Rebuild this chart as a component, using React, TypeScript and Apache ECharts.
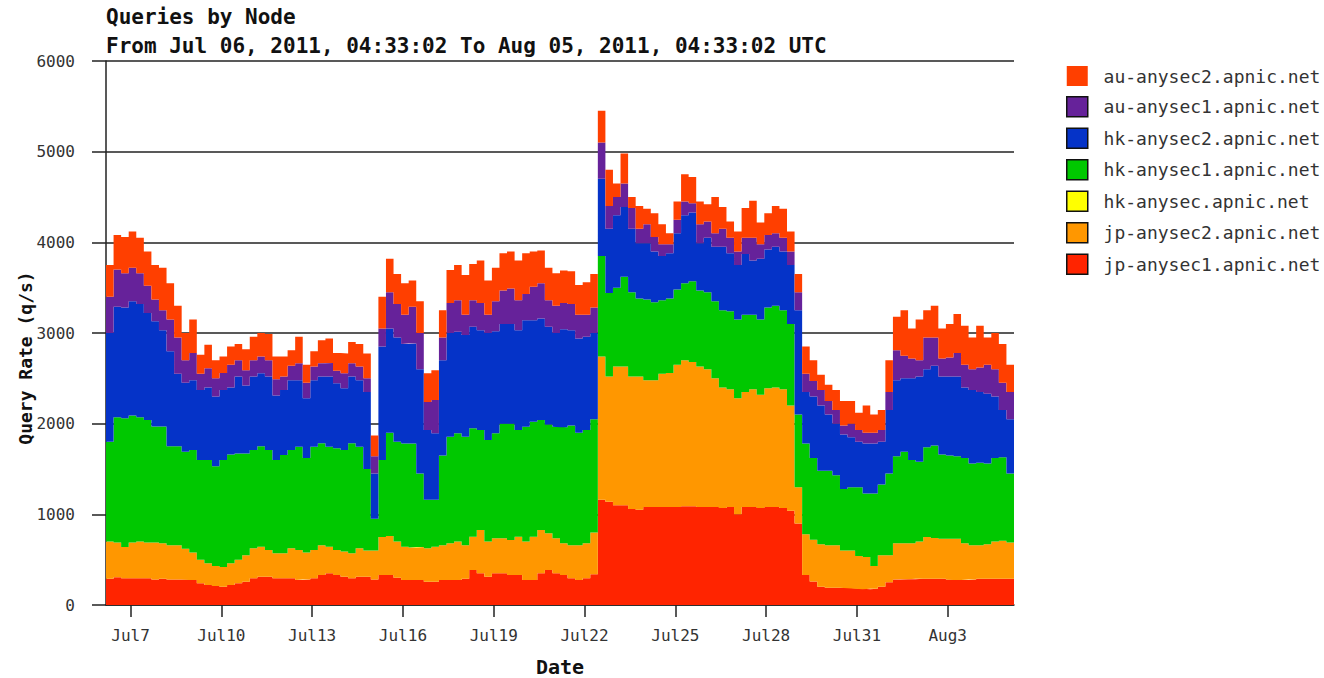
import React, { useEffect, useRef } from "react";
import * as echarts from "echarts";

// ---- time frame ----
const startTime = "2011-07-06T04:33:02Z";
const stepHours = 6;
const spanHours = 720;

// ---- tick labels ----
const tickDates = ["2011-07-07", "2011-07-10", "2011-07-13", "2011-07-16", "2011-07-19", "2011-07-22", "2011-07-25", "2011-07-28", "2011-07-31", "2011-08-03"];
const tickLabels = ["Jul7", "Jul10", "Jul13", "Jul16", "Jul19", "Jul22", "Jul25", "Jul28", "Jul31", "Aug3"];
const yMin = 0;
const yMax = 6000;
const yStep = 1000;

// ---- series (bottom of stack first) ----
const seriesNames = ["jp-anysec1.apnic.net", "jp-anysec2.apnic.net", "hk-anysec.apnic.net", "hk-anysec1.apnic.net", "hk-anysec2.apnic.net", "au-anysec1.apnic.net", "au-anysec2.apnic.net"];
const seriesColors = ["#FF2400", "#FF9700", "#FFFF00", "#00C800", "#0533C8", "#66229A", "#FF3F00"];
const legendNames = ["au-anysec2.apnic.net", "au-anysec1.apnic.net", "hk-anysec2.apnic.net", "hk-anysec1.apnic.net", "hk-anysec.apnic.net", "jp-anysec2.apnic.net", "jp-anysec1.apnic.net"];

// values per 6-hour step (q/s)
const jp1 = [
  290, 305, 295, 295, 295, 295, 280, 290, 280, 280,
  280, 275, 240, 220, 210, 200, 220, 240, 257, 294,
  312, 312, 294, 294, 294, 275, 280, 294, 330, 350,
  330, 312, 294, 312, 312, 280, 330, 330, 300, 275,
  275, 275, 257, 257, 275, 275, 275, 290, 386, 350,
  312, 350, 350, 330, 330, 275, 275, 350, 386, 350,
  330, 294, 275, 294, 340, 1160, 1140, 1100, 1100, 1060,
  1050, 1080, 1080, 1080, 1080, 1080, 1090, 1090, 1080, 1080,
  1080, 1070, 1080, 1000, 1080, 1080, 1070, 1080, 1080, 1070,
  1040, 900, 330, 260, 200, 190, 190, 190, 185, 180,
  175, 180, 200, 250, 280, 285, 285, 290, 290, 290,
  290, 280, 275, 275, 280, 290, 290, 290, 290, 290,
];
const jp2 = [
  410, 385, 345, 395, 405, 395, 410, 390, 380, 380,
  340, 305, 260, 240, 220, 220, 240, 260, 293, 331,
  331, 294, 276, 276, 331, 331, 300, 312, 330, 293,
  276, 278, 276, 313, 288, 320, 420, 430, 400, 368,
  360, 365, 368, 386, 385, 405, 425, 370, 367, 477,
  388, 385, 385, 387, 423, 425, 478, 477, 404, 385,
  350, 366, 385, 386, 460, 1580, 1380, 1530, 1530, 1460,
  1470, 1400, 1400, 1470, 1480, 1570, 1610, 1590, 1550, 1520,
  1420, 1330, 1300, 1280, 1270, 1300, 1250, 1310, 1320, 1310,
  1160, 400, 450, 460, 470, 470, 470, 410, 415, 360,
  355, 250, 350, 300, 400, 395, 395, 410, 460, 450,
  440, 450, 455, 405, 380, 370, 380, 410, 420, 400,
];
const hk0 = [
  0, 0, 0, 0, 0, 0, 0, 0, 0, 0, 0, 0, 0, 0, 0, 0, 0, 0, 0, 0,
  0, 0, 0, 0, 0, 0, 0, 0, 0, 0, 0, 0, 0, 0, 0, 0, 0, 0, 0, 0,
  0, 0, 0, 0, 0, 0, 0, 0, 0, 0, 0, 0, 0, 0, 0, 0, 0, 0, 0, 0,
  0, 0, 0, 0, 0, 0, 0, 0, 0, 0, 0, 0, 0, 0, 0, 0, 0, 0, 0, 0,
  0, 0, 0, 0, 0, 0, 0, 0, 0, 0, 0, 0, 0, 0, 0, 0, 0, 0, 0, 0,
  0, 0, 0, 0, 0, 0, 0, 0, 0, 0, 0, 0, 0, 0, 0, 0, 0, 0, 0, 0,
];
const hk1 = [
  1100, 1380, 1420, 1400, 1370, 1350, 1280, 1290, 1090, 1090,
  1070, 1130, 1100, 1140, 1100, 1180, 1200, 1170, 1120, 1085,
  1107, 1104, 1030, 1084, 1085, 1140, 1040, 1140, 1123, 1103,
  1122, 1120, 1213, 1121, 900, 350, 850, 1140, 1100, 1137,
  1145, 810, 535, 517, 990, 1176, 1193, 1196, 1197, 1103,
  1120, 1158, 1265, 1283, 1177, 1266, 1267, 1213, 1200, 1231,
  1280, 1320, 1240, 1250, 1250, 1110, 920, 870, 990, 930,
  860, 890, 860, 810, 820, 830, 850, 890, 840, 850,
  850, 850, 860, 870, 850, 820, 830, 890, 900, 870,
  900, 800, 1000, 900, 810, 820, 770, 680, 700, 760,
  700, 800, 780, 900, 960, 1010, 920, 880, 990, 1020,
  930, 920, 910, 940, 900, 910, 890, 920, 920, 760,
];
const hk2 = [
  1200, 1220, 1220, 1260, 1250, 1180, 1160, 1060, 1050, 800,
  760, 770, 770, 800, 770, 770, 740, 850, 750, 810,
  805, 810, 710, 716, 770, 734, 660, 734, 737, 774,
  717, 680, 737, 734, 850, 500, 1250, 1150, 1150, 1100,
  1105, 1150, 770, 733, 1050, 1144, 1121, 1121, 1120, 1100,
  1180, 1127, 1100, 1100, 1100, 1174, 1120, 1120, 1080, 1034,
  1080, 1050, 1040, 1030, 950, 850, 710, 800, 770, 700,
  610, 620, 560, 490, 500, 620, 750, 760, 520, 600,
  600, 700, 640, 600, 670, 600, 670, 640, 650, 650,
  650, 1150, 570, 680, 720, 620, 570, 600, 550, 500,
  550, 550, 470, 700, 840, 810, 900, 940, 860, 880,
  860, 870, 880, 780, 810, 780, 770, 680, 520, 600,
];
const au1 = [
  400, 410, 380, 370, 340, 300, 240, 220, 350, 400,
  250, 300, 180, 210, 200, 190, 250, 180, 170, 180,
  185, 180, 180, 150, 160, 185, 170, 150, 145, 150,
  140, 165, 145, 150, 150, 190, 200, 400, 370, 320,
  405, 400, 310, 367, 250, 330, 346, 223, 290, 300,
  200, 330, 370, 390, 330, 290, 370, 390, 290, 300,
  290, 290, 260, 240, 280, 400, 250, 200, 260, 230,
  160, 210, 160, 130, 100, 150, 150, 100, 210, 180,
  150, 200, 170, 150, 180, 250, 160, 160, 150, 150,
  150, 200, 200, 170, 170, 150, 150, 100, 150, 130,
  120, 120, 130, 200, 330, 250, 220, 180, 350, 310,
  200, 210, 260, 250, 230, 270, 320, 300, 300, 300,
];
const au2 = [
  350, 380, 400, 400, 390, 380, 380, 470, 400, 350,
  300, 370, 210, 260, 200, 180, 200, 180, 230, 260,
  260, 290, 250, 220, 170, 295, 200, 170, 255, 270,
  195, 220, 235, 250, 275, 230, 350, 370, 330, 350,
  290, 350, 315, 330, 300, 364, 390, 440, 400, 470,
  380, 370, 410, 410, 440, 450, 390, 360, 360, 360,
  360, 360, 330, 360, 370, 350, 400, 150, 330, 120,
  250, 170, 260, 220, 120, 200, 300, 290, 250, 190,
  400, 240, 180, 220, 330, 410, 240, 240, 300, 320,
  220, 200, 300, 230, 170, 180, 220, 270, 250, 190,
  300, 200, 220, 350, 370, 500, 330, 450, 300, 350,
  330, 370, 430, 430, 350, 460, 300, 400, 430, 300,
];

const seriesValues = [jp1, jp2, hk0, hk1, hk2, au1, au2];

const MONO = "'DejaVu Sans Mono', 'Liberation Mono', monospace";
const INK = "#222";

export default function App() {
  const ref = useRef<HTMLDivElement>(null);

  useEffect(() => {
    if (!ref.current) return;
    const chart = echarts.init(ref.current, null, { renderer: "svg" });
    const startMs = Date.parse(startTime);
    const tickHours = tickDates.map((d) => (Date.parse(d + "T00:00:00Z") - startMs) / 3600000);

    const nSteps = jp1.length;
    // category per step boundary (hours since start), last one closes the final step
    const stepCats: string[] = [];
    for (let i = 0; i <= nSteps; i++) stepCats.push(String(i * stepHours));

    const series = seriesNames.map((name, k) => {
      const vals = seriesValues[k];
      const data = vals.concat([vals[vals.length - 1]]);
      return {
        name,
        type: "line",
        stack: "total",
        step: "end",
        symbol: "none",
        showSymbol: false,
        silent: true,
        xAxisIndex: 0,
        lineStyle: { width: 0 },
        itemStyle: { color: seriesColors[k] },
        areaStyle: { color: seriesColors[k], opacity: 1 },
        data,
      };
    });

    const option: any = {
      animation: false,
      backgroundColor: "#ffffff",
      grid: { left: 106, right: 310, top: 61, bottom: 73, containLabel: false, outerBoundsMode: "none" },
      legend: {
        orient: "vertical",
        left: 1066,
        top: 66,
        padding: 0,
        itemWidth: 21,
        itemHeight: 20,
        itemGap: 10,
        icon: "rect",
        selectedMode: false,
        formatter: (n: string) => " " + n,
        textStyle: { fontFamily: MONO, fontSize: 18, color: "#333" },
        data: legendNames.map((n, i) => ({
          name: n,
          itemStyle: i === 0 ? { borderWidth: 0 } : { borderColor: "#111", borderWidth: 1.5 },
        })),
      },
      xAxis: [
        {
          type: "category",
          data: stepCats,
          boundaryGap: false,
          show: false,
        },
        {
          type: "value",
          min: 0,
          max: spanHours,
          position: "bottom",
          name: "Date",
          nameLocation: "middle",
          nameGap: 52,
          nameTextStyle: { fontFamily: MONO, fontSize: 20, fontWeight: "bold", color: "#111" },
          axisLine: { show: true, lineStyle: { color: INK, width: 1.5 } },
          axisTick: { show: true, customValues: tickHours, length: 12, lineStyle: { color: INK, width: 1.5 } },
          axisLabel: {
            customValues: tickHours,
            margin: 22,
            fontFamily: MONO,
            fontSize: 16,
            color: "#333",
            formatter: (v: number) => {
              const idx = tickHours.findIndex((h) => Math.abs(h - v) < 1e-6);
              return idx >= 0 ? tickLabels[idx] : "";
            },
          },
          splitLine: { show: false },
        },
      ],
      yAxis: {
        type: "value",
        min: yMin,
        max: yMax,
        interval: yStep,
        axisLine: { show: true, lineStyle: { color: INK, width: 1.5 } },
        axisTick: { show: true, length: 14, lineStyle: { color: INK, width: 1.5 } },
        axisLabel: { margin: 31, fontFamily: MONO, fontSize: 16, color: "#333", formatter: (v: number) => String(v) },
        splitLine: { show: true, lineStyle: { color: INK, width: 1.5 } },
      },
      graphic: [
        {
          type: "text",
          left: 106,
          top: 6,
          style: { text: "Queries by Node", font: `bold 21px ${MONO}`, fill: "#111" },
        },
        {
          type: "text",
          left: 106,
          top: 35,
          style: { text: "From Jul 06, 2011, 04:33:02 To Aug 05, 2011, 04:33:02 UTC", font: `bold 21px ${MONO}`, fill: "#111" },
        },
        {
          type: "text",
          x: 25,
          y: 358,
          rotation: Math.PI / 2,
          style: { text: "Query Rate (q/s)", font: `bold 18px ${MONO}`, fill: "#111", align: "center", verticalAlign: "middle" },
        },
      ],
      series,
    };

    chart.setOption(option);
    return () => chart.dispose();
  }, []);

  return <div ref={ref} style={{ position: "fixed", left: 0, top: 0, width: 1324, height: 678 }} />;
}
